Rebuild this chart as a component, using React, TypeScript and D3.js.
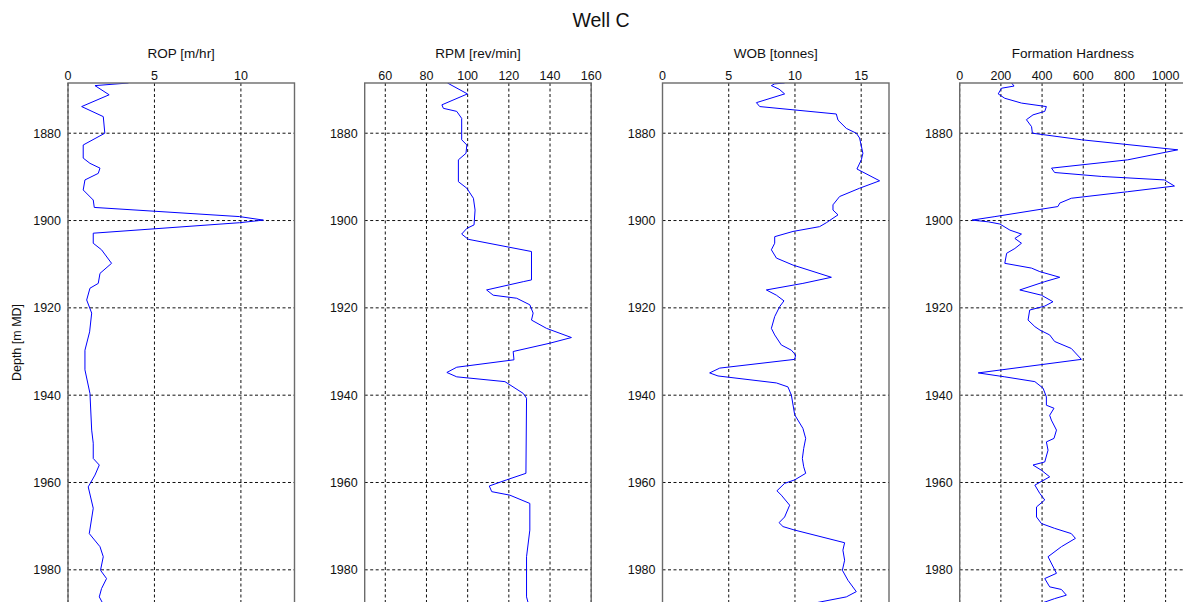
import React from "react";
import * as d3 from "d3";

const title = "Well C";
const yLabel = "Depth [m MD]";
const depthTicks = [1880, 1900, 1920, 1940, 1960, 1980];

const panelTitles = ["ROP [m/hr]", "RPM [rev/min]", "WOB [tonnes]", "Formation Hardness"];
const panelDomains: [number, number][] = [[0, 13.1], [50, 160], [0, 17.1], [0, 1100]];
const panelTicks = [
  [0, 5, 10],
  [60, 80, 100, 120, 140, 160],
  [0, 5, 10, 15],
  [0, 200, 400, 600, 800, 1000],
];

const ropDepth = [1868.5, 1869.1, 1871.2, 1873.9, 1876.2, 1880, 1882.7, 1885.7, 1886.9, 1888, 1889.2, 1890.7, 1893, 1895.3, 1897, 1899.1, 1899.9, 1900.5, 1902.9, 1905.2, 1906.7, 1909.8, 1912.1, 1914.4, 1915.5, 1918.2, 1921.2, 1925.5, 1929.7, 1934.2, 1939.6, 1948, 1951, 1954.5, 1956, 1958.3, 1961, 1965.9, 1971.7, 1974.7, 1977, 1980.1, 1982, 1984.3, 1986.2, 1987.6];
const ropValue = [3.5, 1.56, 2.38, 0.79, 2.04, 2.13, 0.88, 0.88, 1.27, 1.85, 1.75, 0.98, 0.88, 1.46, 1.52, 9.92, 11.3, 9.92, 1.46, 1.46, 1.94, 2.52, 1.85, 1.75, 1.27, 1.08, 1.37, 1.25, 0.98, 0.98, 1.27, 1.37, 1.46, 1.46, 1.81, 1.56, 1.17, 1.46, 1.23, 1.85, 2.04, 1.88, 2.23, 1.94, 1.81, 2.0];

const rpmDepth = [1868.5, 1871, 1873.5, 1874.3, 1875, 1876.6, 1881.5, 1882.7, 1884.6, 1886.1, 1891.1, 1892.6, 1894.9, 1897.6, 1901, 1901.8, 1903.1, 1904.3, 1907.1, 1913.6, 1914, 1915.9, 1917.1, 1917.8, 1919.3, 1921.2, 1922.8, 1924.7, 1926.8, 1928.1, 1930, 1931.9, 1933.6, 1934.8, 1935.8, 1936.9, 1939.6, 1940.7, 1957.9, 1959.4, 1960.8, 1962.1, 1962.9, 1964.8, 1970.9, 1977, 1986.2, 1987.6];
const rpmValue = [90.2, 99.9, 87.5, 88.2, 94.7, 97.1, 97.1, 99.6, 99.2, 95.5, 95.5, 99.6, 102.8, 103.6, 103.1, 99.6, 97.1, 100.3, 131, 131, 127, 109.2, 112.4, 123.8, 130.2, 131.8, 131, 138.3, 150.4, 139.9, 122.1, 122.5, 94.7, 89.9, 94.7, 118.1, 127, 128.6, 128.3, 118.9, 110.5, 111.7, 120.5, 130.2, 130.2, 128.6, 128.6, 129.4];

const wobDepth = [1868.5, 1868.7, 1869.1, 1869.9, 1871, 1873, 1873.9, 1875.6, 1877, 1878.9, 1880, 1881.1, 1884.6, 1886.1, 1888.2, 1890.9, 1892.6, 1894.5, 1896.4, 1897.6, 1898.7, 1900.5, 1901.4, 1902.5, 1903.7, 1905.2, 1906.7, 1908.6, 1910.2, 1913, 1914.4, 1915.9, 1917.1, 1918.4, 1919.7, 1922, 1924.7, 1926.2, 1928.5, 1929.7, 1930.8, 1931.8, 1933.8, 1934.9, 1935.6, 1937.2, 1938.1, 1940, 1944.5, 1947.6, 1949.9, 1952.2, 1954.5, 1956.4, 1957.9, 1959.4, 1960.2, 1961.9, 1962.9, 1965.2, 1967.9, 1969.2, 1970.1, 1970.9, 1973.8, 1975.5, 1977.8, 1980.1, 1982.4, 1985, 1986.2, 1987.6];
const wobValue = [9.22, 8.47, 8.22, 8.8, 9.22, 7.09, 7.34, 13.12, 13.25, 13.88, 14.63, 14.88, 15.13, 15.01, 14.68, 16.39, 14.88, 13.37, 12.87, 12.87, 13.25, 12.37, 11.86, 9.85, 8.47, 8.47, 8.22, 8.6, 9.85, 12.75, 10.6, 7.84, 8.6, 9.17, 8.85, 8.47, 8.22, 8.47, 8.97, 9.73, 10.05, 9.98, 4.32, 3.56, 4.19, 8.6, 9.47, 9.73, 9.98, 10.6, 10.81, 10.66, 10.56, 10.66, 10.81, 9.98, 9.22, 8.64, 8.97, 9.6, 9.22, 8.8, 9.1, 9.98, 13.75, 13.62, 13.75, 13.58, 14.0, 14.63, 13.88, 11.5];

const fhDepth = [1868.5, 1869.2, 1869.7, 1871, 1872, 1873.1, 1873.9, 1875, 1875.8, 1876.9, 1878.5, 1880, 1881.5, 1883.8, 1886.1, 1888, 1889, 1889.9, 1890.7, 1892.1, 1893.4, 1894.9, 1896, 1896.8, 1899.1, 1899.9, 1900.3, 1900.8, 1902.2, 1903.1, 1904.1, 1905.2, 1906.4, 1907.5, 1909.8, 1910.9, 1911.7, 1913, 1914, 1915.9, 1917.1, 1918.6, 1919.6, 1920.5, 1922.8, 1924.3, 1925.1, 1926.2, 1927.7, 1929.3, 1931.8, 1934.9, 1935.8, 1936.9, 1938.4, 1940.4, 1942.3, 1943, 1944.6, 1945.7, 1948, 1949.9, 1950.7, 1952.6, 1955.3, 1956, 1957.2, 1958.7, 1960.6, 1962.5, 1964, 1965.6, 1967.9, 1969.4, 1970.5, 1971.7, 1972.8, 1974.7, 1977, 1980.8, 1982, 1983.9, 1984.5, 1985.8, 1986.6, 1987.6];
const fhValue = [252, 264, 203, 187, 219, 300, 421, 413, 356, 324, 349, 353, 591, 1059, 816, 446, 461, 688, 994, 1043, 816, 542, 486, 477, 171, 60, 139, 195, 244, 300, 268, 300, 268, 228, 219, 349, 389, 486, 413, 292, 397, 453, 413, 340, 332, 365, 390, 437, 461, 542, 591, 90, 219, 365, 405, 421, 421, 458, 437, 445, 470, 458, 421, 429, 413, 356, 397, 437, 365, 389, 413, 373, 373, 397, 461, 542, 562, 494, 429, 470, 413, 437, 494, 518, 461, 400];

const series = [
  { depth: ropDepth, value: ropValue },
  { depth: rpmDepth, value: rpmValue },
  { depth: wobDepth, value: wobValue },
  { depth: fhDepth, value: fhValue },
];

const W = 1183;
const H = 640;
const panelLeft = [68, 364.7, 662.5, 959.7];
const panelWidth = 226.5;
const top = 83;
const bottom = 603;
const FONT = "'Liberation Sans', Arial, sans-serif";

export default function App() {
  const y = d3.scaleLinear().domain([1868.5, 1987.6]).range([top, bottom]);
  const line = (xs: d3.ScaleLinear<number, number>, dep: number[], val: number[]) =>
    d3
      .line<number>()
      .x((_, i) => xs(val[i]))
      .y((_, i) => y(dep[i]))(dep.map((_, i) => i)) || "";

  return (
    <svg
      width={W}
      height={H}
      style={{ position: "absolute", left: 0, top: 0, background: "#fff" }}
      fontFamily={FONT}
    >
      <rect x={0} y={0} width={W} height={H} fill="#fff" />
      <text x={601} y={26.5} fontSize={19.5} textAnchor="middle" fill="#111">
        {title}
      </text>
      <text
        transform={`translate(21,${(top + 602) / 2}) rotate(-90)`}
        fontSize={12.5}
        textAnchor="middle"
        fill="#111"
      >
        {yLabel}
      </text>
      {series.map((s, p) => {
        const x0 = panelLeft[p];
        const xs = d3.scaleLinear().domain(panelDomains[p]).range([x0, x0 + panelWidth]);
        const clipId = `clip${p}`;
        return (
          <g key={p}>
            <defs>
              <clipPath id={clipId}>
                <rect x={x0} y={top} width={panelWidth} height={bottom - top} />
              </clipPath>
            </defs>
            <text x={x0 + panelWidth / 2} y={57.5} fontSize={13.5} textAnchor="middle" fill="#111">
              {panelTitles[p]}
            </text>
            {panelTicks[p].map((t) => (
              <g key={`vx${t}`}>
                <line
                  x1={xs(t)}
                  x2={xs(t)}
                  y1={top}
                  y2={bottom}
                  stroke="#111"
                  strokeWidth={1}
                  strokeDasharray="3,2.5"
                />
                <text x={xs(t)} y={80} fontSize={12.5} textAnchor="middle" fill="#111">
                  {t}
                </text>
              </g>
            ))}
            {depthTicks.map((t) => (
              <g key={`hy${t}`}>
                <line
                  x1={x0}
                  x2={x0 + panelWidth}
                  y1={y(t)}
                  y2={y(t)}
                  stroke="#111"
                  strokeWidth={1}
                  strokeDasharray="3,2.5"
                />
                <text
                  x={x0 - 7}
                  y={y(t)}
                  dy="0.35em"
                  fontSize={12.5}
                  textAnchor="end"
                  fill="#111"
                >
                  {t}
                </text>
              </g>
            ))}
            <path
              d={line(xs, s.depth, s.value)}
              fill="none"
              stroke="#0000ff"
              strokeWidth={1}
              clipPath={`url(#${clipId})`}
            />
            <rect
              x={x0}
              y={top}
              width={panelWidth}
              height={bottom - top}
              fill="none"
              stroke="#6b6b6b"
              strokeWidth={1.4}
            />
          </g>
        );
      })}
    </svg>
  );
}
